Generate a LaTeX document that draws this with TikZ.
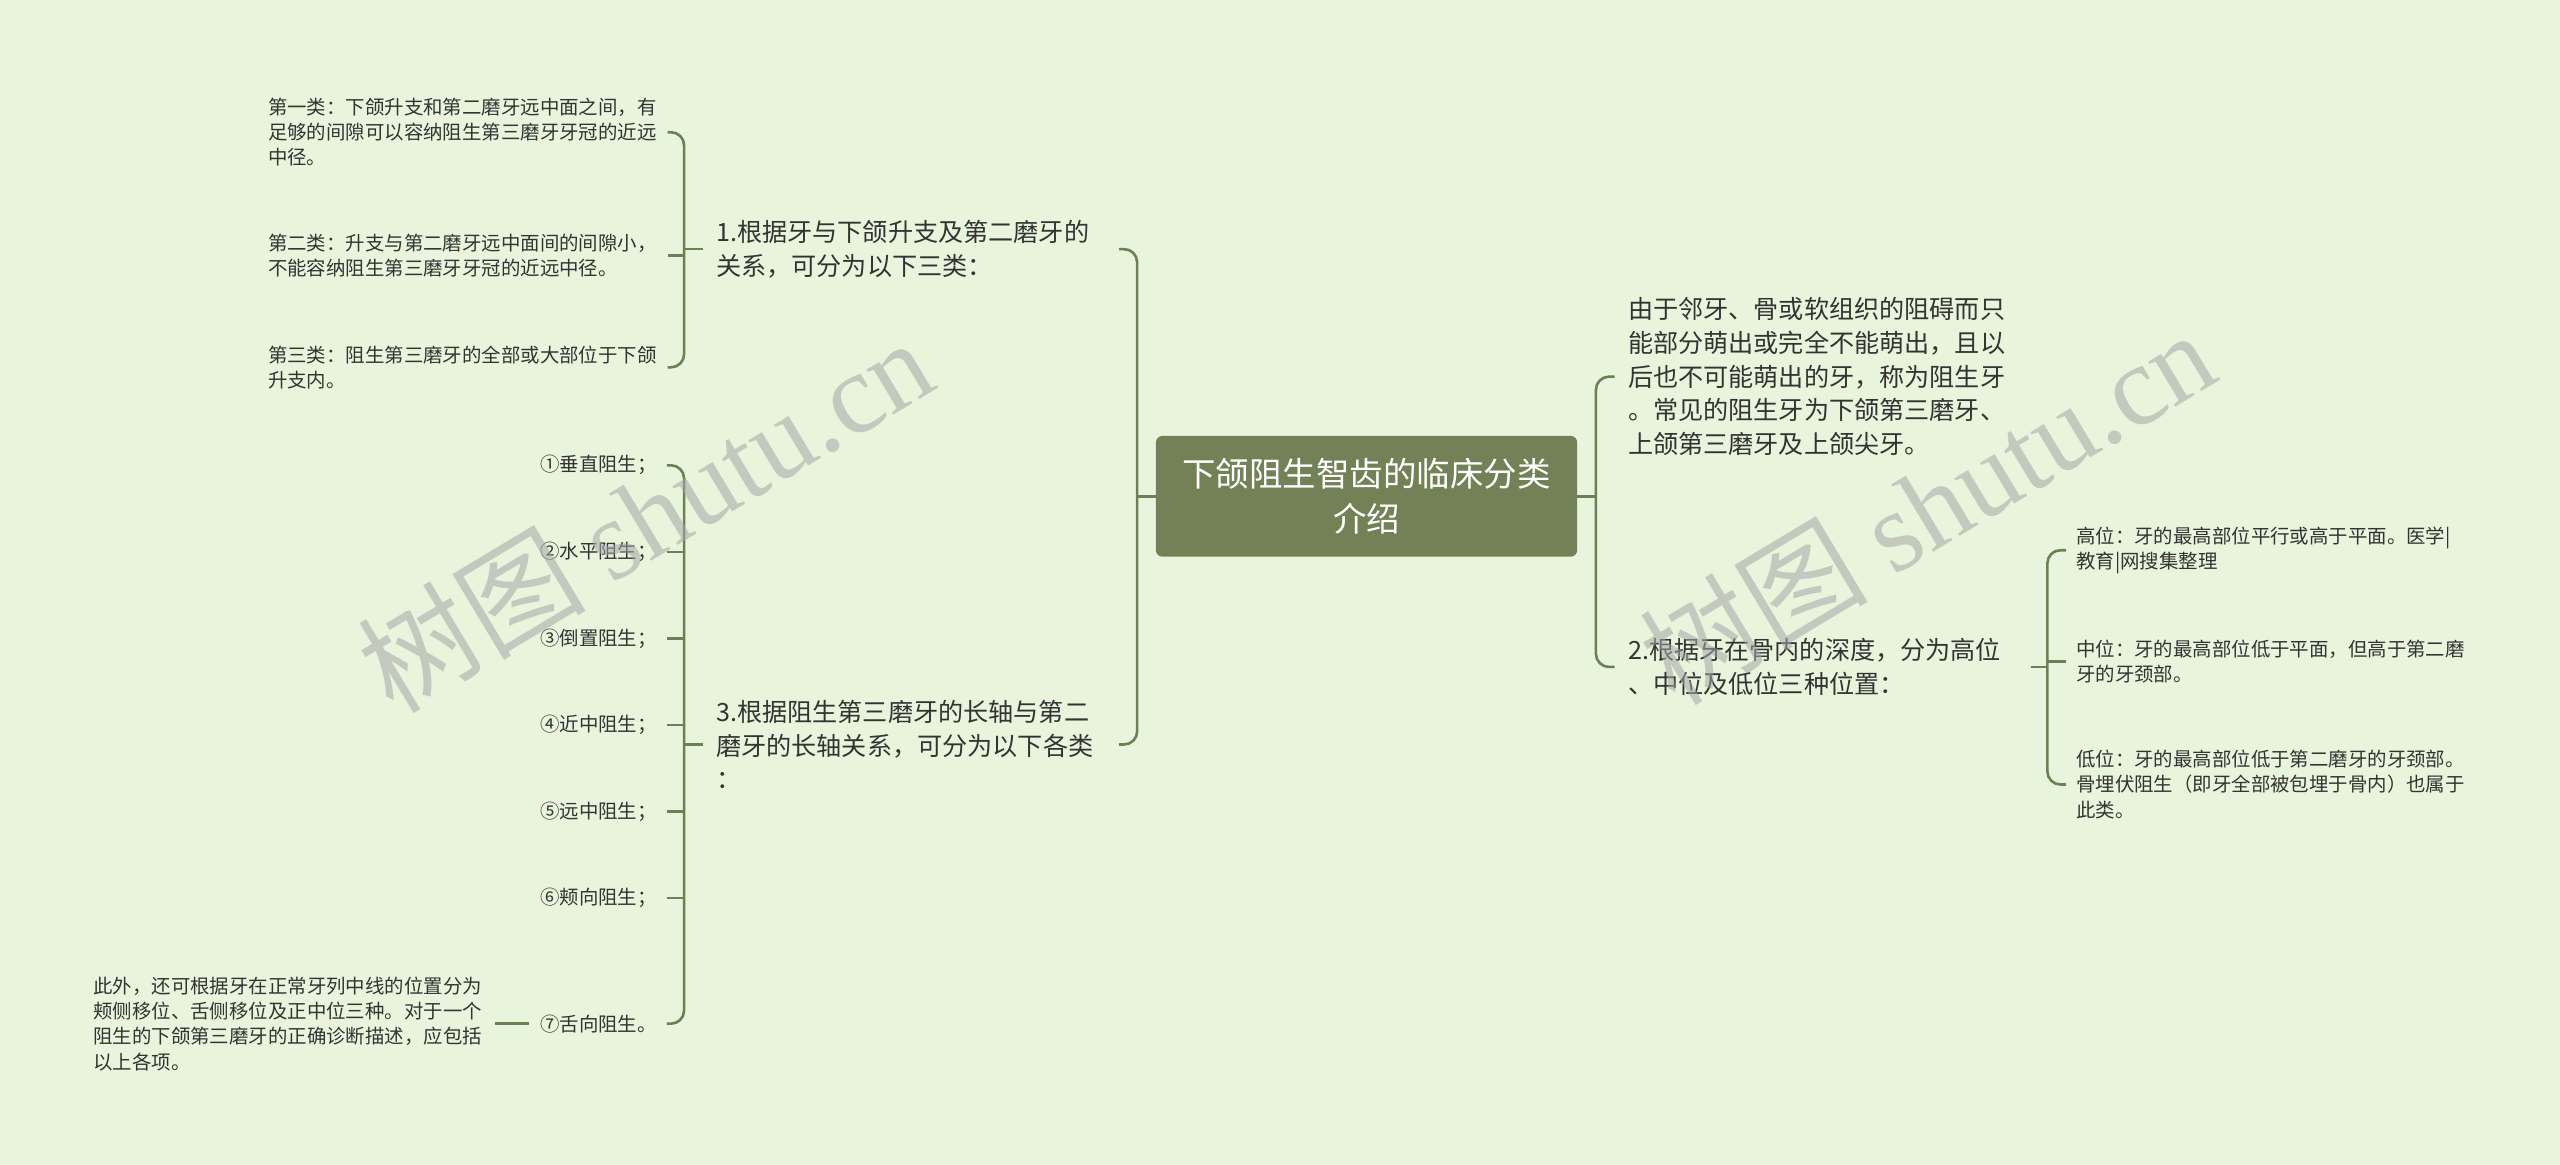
\documentclass[tikz,border=0pt]{standalone}
\usepackage{fontspec}
\setmainfont{Noto Sans CJK SC}
\newfontfamily\markfont{Liberation Serif}
\definecolor{bgc}{HTML}{E8F5DC}
\definecolor{rootc}{HTML}{728156}
\definecolor{linec}{HTML}{6F7F55}
\definecolor{txt}{HTML}{333333}

\begin{document}
\begin{tikzpicture}[x=1pt, y=-1pt,
    link/.style = {draw=linec, line width=1.6pt},
    rootbox/.style = {fill=rootc, rounded corners=4pt, minimum width=258pt, minimum height=74pt,
        text=white, align=center, font=\fontsize{20.5}{28}\selectfont},
    bigtext/.style = {anchor=west, inner xsep=8pt, inner ysep=0pt, align=left, text=txt,
        font=\fontsize{15.4}{20.6}\selectfont},
    smalltext/.style = {inner xsep=6pt, inner ysep=0pt, align=left, text=txt,
        font=\fontsize{11.9}{15.5}\selectfont},
    wmark/.style = {rotate=31, text=gray!70, opacity=.55, font=\fontsize{70}{70}\selectfont}]
    \useasboundingbox (0,0) rectangle (1568,713.5);
    \fill[bgc] (0,0) rectangle (1568,713.5);

    % root
    \node[rootbox] (root) at (837,304) {下颌阻生智齿的临床分类\\介绍};

    % left branches
    \node[bigtext, text width=238.5pt] (n1) at (430.5,152.6) {1.根据牙与下颌升支及第二磨牙的\\关系，可分为以下三类：};
    \node[bigtext, text width=238.5pt] (n3) at (430.5,456) {3.根据阻生第三磨牙的长轴与第二\\磨牙的长轴关系，可分为以下各类\\：};

    \node[smalltext, anchor=west, text width=238.5pt] (c11) at (158,81) {第一类：下颌升支和第二磨牙远中面之间，有\\足够的间隙可以容纳阻生第三磨牙牙冠的近远\\中径。};
    \node[smalltext, anchor=west, text width=238.5pt] (c12) at (158,156.5) {第二类：升支与第二磨牙远中面间的间隙小，\\不能容纳阻生第三磨牙牙冠的近远中径。};
    \node[smalltext, anchor=west, text width=238.5pt] (c13) at (158,225) {第三类：阻生第三磨牙的全部或大部位于下颌\\升支内。};

    \node[smalltext, anchor=east, align=right, text width=72pt] (s1) at (408.5,285) {①垂直阻生；};
    \node[smalltext, anchor=east, align=right, text width=72pt] (s2) at (408.5,338) {②水平阻生；};
    \node[smalltext, anchor=east, align=right, text width=72pt] (s3) at (408.5,391) {③倒置阻生；};
    \node[smalltext, anchor=east, align=right, text width=72pt] (s4) at (408.5,444) {④近中阻生；};
    \node[smalltext, anchor=east, align=right, text width=72pt] (s5) at (408.5,497) {⑤远中阻生；};
    \node[smalltext, anchor=east, align=right, text width=72pt] (s6) at (408.5,550) {⑥颊向阻生；};
    \node[smalltext, anchor=east, align=right, text width=72pt] (s7) at (408.5,627) {⑦舌向阻生。};

    \node[smalltext, anchor=west, text width=239.5pt] (x1) at (51,627) {此外，还可根据牙在正常牙列中线的位置分为\\颊侧移位、舌侧移位及正中位三种。对于一个\\阻生的下颌第三磨牙的正确诊断描述，应包括\\以上各项。};

    % right branches
    \node[bigtext, text width=236pt] (r1) at (989,230.7) {由于邻牙、骨或软组织的阻碍而只\\能部分萌出或完全不能萌出，且以\\后也不可能萌出的牙，称为阻生牙\\。常见的阻生牙为下颌第三磨牙、\\上颌第三磨牙及上颌尖牙。};
    \node[bigtext, text width=238.4pt] (r2) at (989,408.5) {2.根据牙在骨内的深度，分为高位\\、中位及低位三种位置：};

    \node[smalltext, anchor=west, text width=242pt] (h1) at (1265.5,337) {高位：牙的最高部位平行或高于平面。医学|\\教育|网搜集整理};
    \node[smalltext, anchor=west, text width=242pt] (h2) at (1265.5,405) {中位：牙的最高部位低于平面，但高于第二磨\\牙的牙颈部。};
    \node[smalltext, anchor=west, text width=242pt] (h3) at (1265.5,480.5) {低位：牙的最高部位低于第二磨牙的牙颈部。\\骨埋伏阻生（即牙全部被包埋于骨内）也属于\\此类。};

    % connectors
    \coordinate (jl) at (696.5,304);
    \coordinate (jr) at (977.5,304);
    \coordinate (j1) at (419,152.6);
    \coordinate (j3) at (419,456);
    \coordinate (j2) at (1254,408.5);

    \draw[link] (root.west) -- (jl);
    \draw[link, rounded corners=8pt] (n1.east) -| (jl) |- (n3.east);
    \draw[link] (root.east) -- (jr);
    \draw[link, rounded corners=8pt] (r1.west) -| (jr) |- (r2.west);

    \draw[link] (n1.west) -- (j1);
    \draw[link, rounded corners=8pt] (c11.east) -| (j1) |- (c13.east);
    \draw[link] (c12.east) -- (c12.east -| j1);

    \draw[link] (n3.west) -- (j3);
    \draw[link, rounded corners=8pt] (s1.east) -| (j3) |- (s7.east);
    \foreach \i in {2,...,6}
        \draw[link] (s\i.east) -- (s\i.east -| j3);
    \draw[link] (s7.west) -- (x1.east);

    \draw[link] (r2.east) -- (j2);
    \draw[link, rounded corners=8pt] (h1.west) -| (j2) |- (h3.west);
    \draw[link] (h2.west) -- (h2.west -| j2);

    % watermark
    \node[wmark] (wm1) at (395,315) {树图 {\markfont shutu.cn}};
    \node[wmark] (wm2) at (1180,310) {树图 {\markfont shutu.cn}};
\end{tikzpicture}
\end{document}
